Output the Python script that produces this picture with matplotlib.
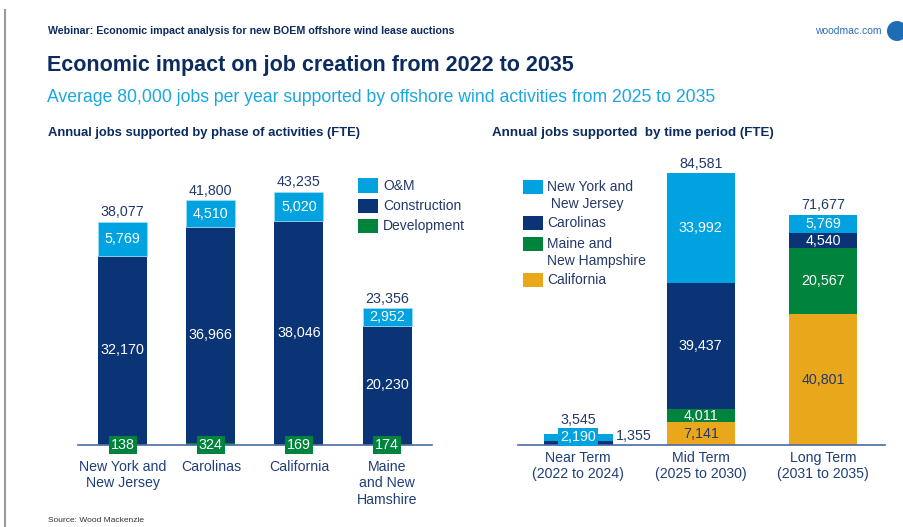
import matplotlib
matplotlib.use("Agg")
import matplotlib.pyplot as plt
from matplotlib.patches import Rectangle, Circle
from matplotlib.lines import Line2D
from matplotlib.transforms import IdentityTransform

# data: left chart (by phase)
regions = ["New York and\nNew Jersey", "Carolinas", "California", "Maine\nand New\nHamshire"]
development = [138, 324, 169, 174]
construction = [32170, 36966, 38046, 20230]
om = [5769, 4510, 5020, 2952]

# data: right chart (by time period)
periods = ["Near Term\n(2022 to 2024)", "Mid Term\n(2025 to 2030)", "Long Term\n(2031 to 2035)"]
california = [0, 7141, 40801]
maine_nh = [0, 4011, 20567]
carolinas = [1355, 39437, 4540]
ny_nj = [2190, 33992, 5769]

W, H = 904, 527
LBLUE = "#00A3E0"
NAVY = "#0B3476"
GREEN = "#00843D"
GOLD = "#E9A81B"
TXT = "#23396B"
NARROW = ["Liberation Sans Narrow", "Liberation Sans", "DejaVu Sans"]

plt.rcParams["font.family"] = ["Liberation Sans", "DejaVu Sans"]

fig = plt.figure(figsize=(W / 100, H / 100), dpi=100)


def fx(px):
    return px / W


def fy(py):
    return 1 - py / H


# header texts
fig.text(fx(48), fy(31), "Webinar: Economic impact analysis for new BOEM offshore wind lease auctions",
         family=NARROW, fontsize=7.7, color="#0C2B5E", va="center", weight="bold")
fig.text(fx(882), fy(31), "woodmac.com", fontsize=7.5, color="#2D6DB5", va="center", ha="right")
fig.patches.append(Circle((897, H - 31), 10, transform=IdentityTransform(),
                          facecolor="#1E6DB4", edgecolor="none"))
fig.text(fx(47), fy(65), "Economic impact on job creation from 2022 to 2035",
         fontsize=15.5, weight="bold", color="#0C2B5E", va="center")
fig.text(fx(47), fy(98), "Average 80,000 jobs per year supported by offshore wind activities from 2025 to 2035",
         fontsize=12.7, color="#1AA7E0", va="center")
fig.text(fx(48), fy(133), "Annual jobs supported by phase of activities (FTE)",
         family=NARROW, fontsize=9.4, weight="bold", color="#0C2B5E", va="center")
fig.text(fx(492), fy(133), "Annual jobs supported  by time period (FTE)",
         family=NARROW, fontsize=9.6, weight="bold", color="#0C2B5E", va="center")
fig.text(fx(48), fy(520), "Source: Wood Mackenzie", fontsize=6, color="#333333", va="center")
fig.lines.append(Line2D([fx(5), fx(5)], [fy(10), fy(527)], transform=fig.transFigure,
                        color="#9A9A9A", lw=1.5))


def setup(ax):
    for s in ["top", "right", "left"]:
        ax.spines[s].set_visible(False)
    ax.spines["bottom"].set_color("#4A6AA5")
    ax.spines["bottom"].set_linewidth(1.2)
    ax.set_yticks([])
    ax.tick_params(axis="x", length=0, pad=6, labelsize=10.2, labelcolor="#1F3F7A")


def inlabel(ax, x, y, val, color="white", box=None):
    kw = {}
    if box:
        kw["bbox"] = dict(boxstyle="square,pad=0.15", facecolor=box, edgecolor="none")
    ax.text(x, y, f"{val:,}", ha="center", va="center", color=color, fontsize=10.3, **kw)


# left chart
ax1 = fig.add_axes([fx(78), fy(445), (432 - 78) / W, 293 / H])
setup(ax1)
x1 = list(range(len(regions)))
bw1 = 0.556
ax1.bar(x1, development, bw1, color=GREEN)
ax1.bar(x1, construction, bw1, bottom=development, color=NAVY)
base = [d + c for d, c in zip(development, construction)]
ax1.bar(x1, om, bw1, bottom=base, color=LBLUE, edgecolor="#9EDCF5", linewidth=0.6)
ax1.set_xlim(-0.508, 3.51)
ax1.set_ylim(0, 50085)
ax1.set_xticks(x1)
ax1.set_xticklabels(regions, linespacing=1.2, va="top")
ax1.tick_params(axis="x", pad=11)
for i in x1:
    inlabel(ax1, i, 0, development[i], box=GREEN)
    inlabel(ax1, i, development[i] + construction[i] / 2, construction[i])
    inlabel(ax1, i, base[i] + om[i] / 2, om[i])
    total = base[i] + om[i]
    ax1.annotate(f"{total:,}", (i, total), xytext=(0, 2), textcoords="offset points",
                 ha="center", va="bottom", color=TXT, fontsize=10.3)

# left legend
for k, (lab, col) in enumerate([("O&M", LBLUE), ("Construction", NAVY), ("Development", GREEN)]):
    yc = 185.5 + 20.3 * k
    fig.patches.append(Rectangle((fx(358), fy(yc + 7)), 20 / W, 14 / H, transform=fig.transFigure,
                                 facecolor=col, edgecolor="none"))
    fig.text(fx(383), fy(yc), lab, fontsize=10, color=TXT, va="center")

# right chart
ax2 = fig.add_axes([fx(518), fy(445), (885 - 518) / W, 293 / H])
setup(ax2)
x2 = list(range(len(periods)))
bw2 = 0.559
b1 = california
b2 = [a + b for a, b in zip(b1, maine_nh)]
b3 = [a + b for a, b in zip(b2, carolinas)]
ax2.bar(x2, california, bw2, color=GOLD)
ax2.bar(x2, maine_nh, bw2, bottom=b1, color=GREEN)
ax2.bar(x2, carolinas, bw2, bottom=b2, color=NAVY)
ax2.bar(x2, ny_nj, bw2, bottom=b3, color=LBLUE)
ax2.set_xlim(-0.492, 2.504)
ax2.set_ylim(0, 91277)
ax2.set_xticks(x2)
ax2.set_xticklabels(periods, linespacing=1.2, va="top")
ax2.tick_params(axis="x", pad=4)

# near term labels
ax2.annotate(f"{carolinas[0]:,}", xy=(bw2 / 2, carolinas[0] / 2), xytext=(0.45, 2800),
             ha="center", va="center", color=TXT, fontsize=10.3,
             arrowprops=dict(arrowstyle="-", color=NAVY, lw=0.8, shrinkA=14, shrinkB=0))
inlabel(ax2, 0, b3[0] + ny_nj[0] / 2, ny_nj[0], box=LBLUE)
for i in x2[1:]:
    inlabel(ax2, i, california[i] / 2, california[i], color=TXT)
    inlabel(ax2, i, b1[i] + maine_nh[i] / 2, maine_nh[i])
    inlabel(ax2, i, b2[i] + carolinas[i] / 2, carolinas[i])
    inlabel(ax2, i, b3[i] + ny_nj[i] / 2, ny_nj[i])
for i in x2:
    total = b3[i] + ny_nj[i]
    ax2.annotate(f"{total:,}", (i, total), xytext=(0, 2 if i else 5), textcoords="offset points",
                 ha="center", va="bottom", color=TXT, fontsize=10.3)

# right legend
leg2 = [("New York and\n New Jersey", LBLUE, 187), ("Carolinas", NAVY, 223),
        ("Maine and\nNew Hampshire", GREEN, 244), ("California", GOLD, 280)]
for lab, col, yc in leg2:
    fig.patches.append(Rectangle((fx(523), fy(yc + 7)), 20 / W, 14 / H, transform=fig.transFigure,
                                 facecolor=col, edgecolor="none"))
    fig.text(fx(547), fy(yc - 7), lab, fontsize=10, color=TXT, va="top", linespacing=1.3)

fig.savefig("out.png", dpi=100)
